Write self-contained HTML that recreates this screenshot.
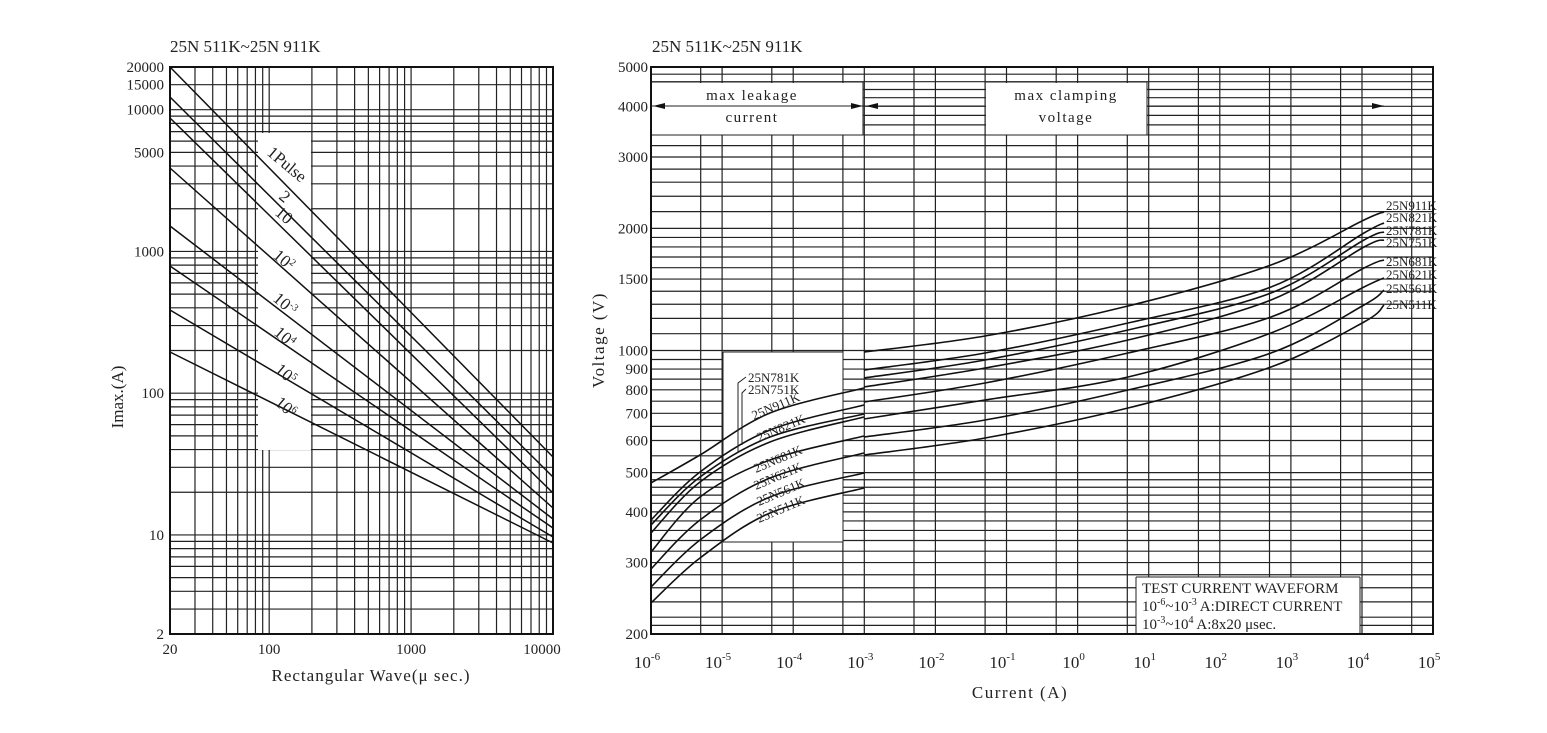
<!DOCTYPE html>
<html><head><meta charset="utf-8"><style>
body{margin:0;background:#fff;}
svg{display:block;font-family:"Liberation Serif",serif;}
text{fill:#222;}
</style></head><body>
<svg id="s" width="1547" height="733" xmlns="http://www.w3.org/2000/svg"></svg>
<script>
const S=document.getElementById('s');let h='';
function L(x1,y1,x2,y2,w,c){h+=`<line x1="${x1}" y1="${y1}" x2="${x2}" y2="${y2}" stroke="${c||'#222'}" stroke-width="${w||1}"/>`;}
function T(x,y,t,sz,a,extra){h+=`<text x="${x}" y="${y}" font-size="${sz||15}" text-anchor="${a||'start'}" ${extra||''}>${t}</text>`;}
function R(x,y,w,hh){h+=`<rect x="${x}" y="${y}" width="${w}" height="${hh}" fill="#fff"/>`;}
function cr(p){let d=`M${p[0][0]},${p[0][1]}`;for(let i=0;i<p.length-1;i++){const p0=p[i-1]||p[i],p1=p[i],p2=p[i+1],p3=p[i+2]||p2;d+=` C${p1[0]+(p2[0]-p0[0])/6},${p1[1]+(p2[1]-p0[1])/6} ${p2[0]-(p3[0]-p1[0])/6},${p2[1]-(p3[1]-p1[1])/6} ${p2[0]},${p2[1]}`;}h+=`<path d="${d}" fill="none" stroke="#111" stroke-width="1.6"/>`;}
// LEFT CHART
const lx=v=>170+141.9*Math.log10(v/20), ly=v=>634-141.75*Math.log10(v/2);
let xs=[];for(let v=20;v<100;v+=10)xs.push(v);for(let v=100;v<1000;v+=100)xs.push(v);for(let v=1000;v<=10000;v+=1000)xs.push(v);
xs.forEach(v=>L(lx(v),67,lx(v),634,1.2));
let ys=[2,3,4,5,6,7,8,9];[10,100,1000].forEach(m=>{for(let k=1;k<10;k++)ys.push(k*m)});ys.push(10000,15000,20000);
ys.forEach(v=>L(170,ly(v),553,ly(v),1.2));
R(258,133,53,317);
[[67,457],[97,477],[118,493],[168,508],[226,519],[266,528],[310,537],[352,543]].forEach(p=>L(170,p[0],553,p[1],1.5,'#111'));
h+=`<rect x="170" y="67" width="383" height="567" fill="none" stroke="#111" stroke-width="2"/>`;
T(170,52,"25N 511K~25N 911K",17);
[[20000,"20000"],[15000,"15000"],[10000,"10000"],[5000,"5000"],[1000,"1000"],[100,"100"],[10,"10"],[2,"2"]].forEach(a=>T(164,ly(a[0])+5,a[1],15,'end'));
T(170,654,"20",15,'middle');T(lx(100),654,"100",15,'middle');T(lx(1000),654,"1000",15,'middle');T(542,654,"10000",15,'middle');
T(371,681,"Rectangular Wave(μ sec.)",17,'middle','letter-spacing="1"');
T(123,397,"Imax.(A)",17,'middle','transform="rotate(-90 123 397)"');
[["1Pulse",266,154],["2",278,198],["10",274,214],["10<tspan font-size='10' dy='-6'>2</tspan>",272,257],["10<tspan font-size='10' dy='-6'>-3</tspan>",272,300],["10<tspan font-size='10' dy='-6'>4</tspan>",273,334],["10<tspan font-size='10' dy='-6'>5</tspan>",274,371],["10<tspan font-size='10' dy='-6'>6</tspan>",274,404]].forEach(a=>T(a[1],a[2],a[0],17,'start',`transform="rotate(40 ${a[1]} ${a[2]})"`));
// RIGHT CHART
const rx=e=>651+71.1*(e+6), ry=v=>634-405.6*Math.log10(v/200);
for(let e=-6;e<=5;e++){L(rx(e),67,rx(e),634,1.2);if(e<5)L(rx(e)+49.7,67,rx(e)+49.7,634,1.2);}
let vs=[210];for(let v=220;v<500;v+=20)vs.push(v);for(let v=500;v<1000;v+=50)vs.push(v);for(let v=1000;v<2000;v+=100)vs.push(v);for(let v=2000;v<=5000;v+=200)vs.push(v);
vs.forEach(v=>L(651,ry(v),1433,ry(v),1.2));
R(652,83,211,52);R(986,83,161,52);R(723,352,120,190);R(1136,577,224,56);
L(651,82,863,82);L(651,135,863,135);L(863,82,863,135);L(985,82,1147,82);L(985,135,1147,135);L(985,82,985,135);L(1147,82,1147,135);
L(651,106,864,106);L(864,106,985,106);L(1147,106,1384,106);
h+=`<path d="M653,106 l12,-3 v6z M863,106 l-12,-3 v6z M866,106 l12,-3 v6z M1384,106 l-12,-3 v6z" fill="#111"/>`;
L(723,352,843,352);L(723,542,843,542);L(723,352,723,542);L(843,352,843,542);
L(1136,577,1360,577);L(1136,577,1136,634);L(1360,577,1360,634);
T(752,100,"max leakage",15,'middle','letter-spacing="1.5"');T(752,122,"current",15,'middle','letter-spacing="1.5"');
T(1066,100,"max clamping",15,'middle','letter-spacing="1.5"');T(1066,122,"voltage",15,'middle','letter-spacing="1.5"');
const lk=[[483,455,413,388],[520,472,430,405],[525,477,437,414],[533,482,442,417],[552,497,460,436],[569,520,478,453],[587,540,497,473],[603,558,513,488]];
const cl=[[352,336,306,265,220,212],[370,353,323,287,233,223],[378,360,330,293,240,232],[387,368,340,300,247,240],[402,383,353,317,268,260],[419,400,377,333,287,278],[437,420,390,353,305,290],[455,438,408,367,322,305]];
lk.forEach(a=>cr([[651,a[0]],[700,a[1]],[770,a[2]],[864,a[3]]]));
const cx=[864,985,1128,1271,1364,1384];
cl.forEach(a=>cr(a.map((y,i)=>[cx[i],y])));
const nm=["25N911K","25N821K","25N781K","25N751K","25N681K","25N621K","25N561K","25N511K"];
const ly2=[210,222,235,247,266,279,293,309];
nm.forEach((n,i)=>T(1386,ly2[i],n,13));
T(748,382,"25N781K",13);T(748,394,"25N751K",13);
h+=`<path d="M746,377 l-8,6 v70 M746,389 l-4,4 v52" fill="none" stroke="#222"/>`;
[["25N911K",754,420],["25N821K",759,442],["25N681K",756,473],["25N621K",756,490],["25N561K",759,506],["25N511K",759,523]].forEach(a=>T(a[1],a[2],a[0],13,'start',`transform="rotate(-23 ${a[1]} ${a[2]})"`));
h+=`<rect x="651" y="67" width="782" height="567" fill="none" stroke="#111" stroke-width="2"/>`;
T(652,52,"25N 511K~25N 911K",17);
[[5000,"5000"],[4000,"4000"],[3000,"3000"],[2000,"2000"],[1500,"1500"],[1000,"1000"],[900,"900"],[800,"800"],[700,"700"],[600,"600"],[500,"500"],[400,"400"],[300,"300"],[200,"200"]].forEach(a=>T(648,ry(a[0])+5,a[1],15,'end'));
for(let e=-6;e<=5;e++)T(rx(e)-4,668,`10<tspan font-size="11" dy="-8">${e}</tspan>`,17,'middle');
T(1020,698,"Current (A)",17,'middle','letter-spacing="1.5"');
T(604,340,"Voltage (V)",17,'middle','letter-spacing="1.5" transform="rotate(-90 604 340)"');
T(1142,593,"TEST CURRENT WAVEFORM",15);
T(1142,611,"10<tspan font-size='10' dy='-6'>-6</tspan><tspan dy='6'>~10</tspan><tspan font-size='10' dy='-6'>-3</tspan><tspan dy='6'> A:DIRECT CURRENT</tspan>",15);
T(1142,629,"10<tspan font-size='10' dy='-6'>-3</tspan><tspan dy='6'>~10</tspan><tspan font-size='10' dy='-6'>4</tspan><tspan dy='6'>  A:8x20 μsec.</tspan>",15);
S.innerHTML=h;
</script>
</body></html>
